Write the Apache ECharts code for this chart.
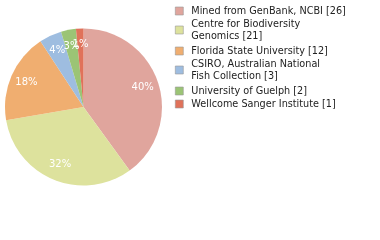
<!DOCTYPE html>
<html><head><meta charset="utf-8">
<script src="https://cdn.jsdelivr.net/npm/echarts@6/dist/echarts.min.js"></script>
<style>html,body{margin:0;padding:0;background:#fff}#c{width:380px;height:240px}</style>
</head><body><div id="c"></div>
<script>
const names = ["Mined from GenBank, NCBI [26]", "Centre for Biodiversity\nGenomics [21]", "Florida State University [12]", "CSIRO, Australian National\nFish Collection [3]", "University of Guelph [2]", "Wellcome Sanger Institute [1]"];
const values = [26, 21, 12, 3, 2, 1];
const colors = ["#e0a59d", "#dde29d", "#f0ae70", "#9ebde0", "#9bc475", "#e0725a"];

const legendTops = [6, 19, 46, 59, 86, 99];

const data = names.map((n, i) => ({ name: n, value: values[i], itemStyle: { color: colors[i] } }));
const total = values.reduce((a, b) => a + b, 0);
const chart = echarts.init(document.getElementById('c'), null, { renderer: 'canvas' });
chart.setOption({
  animation: false,
  legend: names.map((n, i) => ({
    data: [n],
    orient: 'vertical', left: 175, top: legendTops[i], padding: 0,
    itemWidth: 8, itemHeight: 8,
    icon: 'rect',
    itemStyle: { borderColor: '#999', borderWidth: 0.6 },
    formatter: s => s.split('\n').map(t => '{t|' + t + '}').join('\n'),
    textStyle: {
      padding: [0, 0, 0, 3],
      rich: { t: { fontFamily: 'DejaVu Sans', fontSize: 9.7, color: '#222', lineHeight: 12 } }
    },
    selectedMode: false
  })),
  series: [
    {
      type: 'pie', center: [83.5, 107], radius: [0, 78.5], startAngle: 90, clockwise: true,
      silent: true, label: { show: false }, labelLine: { show: false },
      data: data
    },
    {
      type: 'pie', center: [83.5, 107], radius: [40, 78.5], startAngle: 90, clockwise: true,
      silent: true, legendHoverLink: false, avoidLabelOverlap: false,
      itemStyle: { color: 'rgba(0,0,0,0)' },
      labelLayout: { hideOverlap: false },
      label: {
        show: true, position: 'inside', color: '#fff', fontFamily: 'DejaVu Sans', fontSize: 10,
        formatter: p => Math.floor(p.value / total * 100) + '%'
      },
      labelLine: { show: false },
      data: names.map((n, i) => ({ name: 'l' + i, value: values[i] }))
    }
  ]
});
</script></body></html>
